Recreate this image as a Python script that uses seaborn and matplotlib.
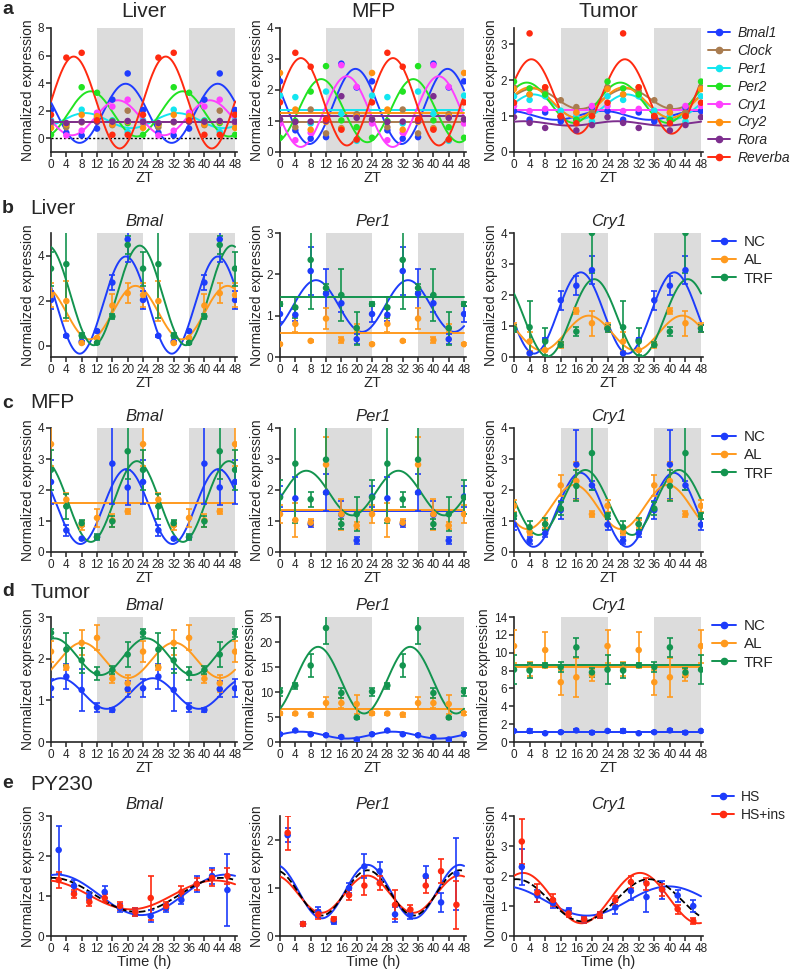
import numpy as np
import pandas as pd
import matplotlib
matplotlib.use("Agg")
import matplotlib.pyplot as plt
from matplotlib.lines import Line2D
import seaborn as sns

sns.set_style("ticks")
plt.rcParams['font.family'] = ['Liberation Sans', 'DejaVu Sans']

# ---------------- data ----------------
zt = [0, 4, 8, 12, 16, 20]   # values are double-plotted over 48 h

genes = ["Bmal1", "Clock", "Per1", "Per2", "Cry1", "Cry2", "Rora", "Reverba"]
gene_colors = ["#1f3cff", "#a97c50", "#12e6f0", "#22e322", "#ff40ff", "#ff9010", "#7d2e8e", "#ff2a10"]

liver_a = {
    "Bmal1": [2.05, 0.4, 0.2, 0.7, 2.8, 4.7],
    "Clock": [1.1, 0.8, 1.15, 1.2, 0.95, 2.0],
    "Per1": [1.3, 1.05, 2.07, 1.5, 1.3, 0.45],
    "Per2": [0.25, 1.0, 3.7, 3.3, 1.25, 1.1],
    "Cry1": [1.2, 0.2, 0.55, 1.85, 2.3, 2.8],
    "Cry2": [0.75, 1.0, 1.7, 1.6, 1.0, 1.2],
    "Rora": [1.2, 1.1, 1.2, 1.2, 1.2, 1.25],
    "Reverba": [1.7, 5.85, 6.2, 1.3, 0.25, 0.25],
}
liver_a_flat = ["Clock", "Cry2", "Rora"]

mfp_a = {
    "Bmal1": [2.28, 0.7, 0.43, 0.48, 2.85, 2.08],
    "Clock": [1.05, 0.8, 1.37, 0.6, 0.77, 1.22],
    "Per1": [1.82, 1.77, 0.92, 1.95, 1.23, 0.36],
    "Per2": [0.46, 1.0, 1.95, 2.77, 1.02, 0.8],
    "Cry1": [0.92, 0.38, 0.62, 1.0, 2.8, 2.1],
    "Cry2": [2.55, 1.37, 0.72, 0.97, 0.75, 1.15],
    "Rora": [1.05, 0.97, 0.98, 1.0, 1.8, 1.1],
    "Reverba": [1.6, 3.2, 2.75, 1.05, 0.72, 0.4],
}
mfp_a_flat = ["Per1", "Clock", "Cry2", "Rora"]

tumor_a = {
    "Bmal1": [1.14, 0.9, 1.1, 0.85, 0.9, 1.23],
    "Clock": [1.8, 1.6, 1.7, 1.44, 1.25, 1.1],
    "Per1": [1.55, 1.45, 1.55, 1.15, 1.0, 0.85],
    "Per2": [1.96, 1.77, 1.6, 1.0, 0.9, 1.0],
    "Cry1": [1.28, 1.14, 1.2, 1.0, 1.1, 1.28],
    "Cry2": [1.75, 1.6, 1.8, 1.0, 1.1, 1.0],
    "Rora": [0.97, 0.81, 0.67, 0.97, 0.6, 0.75],
    "Reverba": [1.37, 3.3, 1.8, 1.0, 0.8, 1.0],
}
tumor_a_flat = ["Cry1"]

groups = ["NC", "AL", "TRF"]
group_colors = ["#1d3cfb", "#ff9a1e", "#13944f"]

# rows b-d: (mean, sem) per group
liver_bmal = {"NC": ([2.03, 0.44, 0.18, 0.65, 2.8, 4.72], [0.4, 0.05, 0.05, 0.05, 0.35, 1.0]),
              "AL": ([2.25, 1.98, 0.12, 0.35, 1.78, 2.33], [0.55, 0.9, 0.05, 0.05, 0.5, 0.45]),
              "TRF": ([3.42, 3.62, 0.45, 0.13, 1.3, 4.47], [0.75, 2.4, 0.1, 0.05, 0.1, 0.4])}
liver_per1 = {"NC": ([1.04, 1.02, 2.08, 1.53, 1.3, 0.43], [0.2, 0.15, 0.58, 0.6, 0.2, 0.12]),
              "AL": ([0.31, 0.8, 0.39, 0.93, 0.41, 0.7], [0.03, 0.2, 0.03, 0.25, 0.07, 0.1]),
              "TRF": ([1.28, 1.2, 2.35, 1.67, 1.5, 0.7], [0.05, 0.25, 1.2, 0.1, 0.62, 0.4])}
liver_cry1 = {"NC": ([0.92, 0.12, 0.55, 1.83, 2.3, 2.8], [0.1, 0.03, 0.05, 0.3, 0.3, 0.45]),
              "AL": ([0.96, 0.5, 0.22, 0.39, 1.48, 1.09], [0.15, 0.3, 0.03, 0.1, 0.1, 0.4]),
              "TRF": ([0.92, 0.96, 0.5, 0.39, 0.82, 4.0], [0.1, 0.85, 0.45, 0.08, 0.15, 1.3])}

mfp_bmal = {"NC": ([2.26, 0.7, 0.43, 0.48, 2.85, 2.08], [0.7, 0.17, 0.03, 0.05, 1.3, 0.55]),
            "AL": ([3.48, 1.69, 0.86, 1.1, 1.02, 1.31], [0.7, 0.2, 0.15, 0.3, 0.2, 0.07]),
            "TRF": ([2.65, 1.47, 0.93, 0.48, 0.99, 3.25], [0.65, 0.4, 0.1, 0.1, 0.18, 0.9])}
mfp_per1 = {"NC": ([1.79, 1.73, 0.9, 1.92, 1.2, 0.37], [0.35, 0.7, 0.1, 0.6, 0.45, 0.12]),
            "AL": ([1.22, 1.03, 0.95, 2.82, 1.22, 0.85], [0.3, 0.55, 0.12, 0.9, 0.5, 0.12]),
            "TRF": ([1.76, 2.85, 1.7, 2.98, 0.9, 1.22], [0.55, 1.9, 0.25, 1.1, 0.15, 0.55])}
mfp_cry1 = {"NC": ([0.88, 0.37, 0.6, 1.35, 2.82, 2.15], [0.18, 0.1, 0.1, 0.3, 1.1, 0.15]),
            "AL": ([1.49, 0.66, 0.9, 2.15, 2.29, 1.22], [0.2, 0.1, 0.13, 0.35, 0.6, 0.1]),
            "TRF": ([1.17, 0.8, 0.9, 1.4, 2.13, 3.19], [0.1, 0.2, 0.2, 0.2, 0.5, 1.2])}

tumor_bmal = {"NC": ([1.29, 1.57, 1.25, 0.83, 0.77, 1.27], [0.22, 0.3, 0.5, 0.1, 0.05, 0.2]),
              "AL": ([2.17, 1.79, 2.38, 2.5, 1.52, 1.41], [0.25, 0.05, 0.3, 0.3, 0.1, 0.2]),
              "TRF": ([2.62, 2.22, 1.96, 1.65, 1.73, 2.1], [0.1, 0.4, 0.3, 0.15, 0.1, 0.3])}
tumor_per1 = {"NC": ([1.55, 2.3, 1.55, 1.35, 1.0, 0.5], [0.2, 0.2, 0.2, 0.2, 0.2, 0.2]),
              "AL": ([5.74, 5.7, 5.5, 7.8, 7.8, 7.6], [0.3, 0.2, 0.4, 1.2, 1.0, 1.9]),
              "TRF": ([10.1, 11.3, 15.3, 22.8, 9.8, 4.9], [0.8, 0.6, 2.3, 3.1, 1.0, 0.2])}
tumor_cry1 = {"NC": ([1.24, 1.24, 0.98, 1.1, 1.3, 1.05], [0.15, 0.2, 0.1, 0.1, 0.2, 0.2]),
              "AL": ([10.75, 8.2, 10.3, 6.7, 7.25, 7.5], [1.85, 0.8, 2.0, 1.4, 2.2, 0.7]),
              "TRF": ([8.1, 8.0, 8.6, 8.4, 10.6, 7.8], [1.6, 0.8, 0.2, 0.6, 1.1, 0.5])}

# row e: PY230 time course
time_h = [2, 6, 10, 14, 18, 22, 26, 30, 34, 38, 42, 46]
py_groups = ["HS", "HS+ins"]
py_colors = ["#1d3cfb", "#ff2a10"]
py_bmal = {"HS": ([2.15, 1.25, 1.0, 1.1, 0.7, 0.6, 0.5, 0.7, 0.9, 1.3, 1.5, 1.15],
                  [0.6, 0.15, 0.1, 0.15, 0.1, 0.1, 0.15, 0.1, 0.1, 0.2, 0.2, 0.9]),
           "HS+ins": ([1.4, 1.05, 0.85, 0.95, 0.75, 0.6, 0.95, 0.75, 1.1, 1.3, 1.45, 1.5],
                      [0.2, 0.1, 0.1, 0.1, 0.1, 0.1, 0.55, 0.1, 0.15, 0.15, 0.2, 0.2])}
py_per1 = {"HS": ([2.1, 0.25, 0.5, 0.3, 1.0, 1.45, 1.35, 0.45, 0.45, 1.25, 0.7, 1.3],
                  [0.15, 0.05, 0.1, 0.05, 0.1, 0.25, 0.2, 0.15, 0.1, 0.2, 0.2, 0.75]),
           "HS+ins": ([2.15, 0.25, 0.45, 0.35, 0.85, 1.05, 1.1, 0.65, 0.55, 1.05, 1.35, 0.65],
                      [0.35, 0.05, 0.1, 0.05, 0.1, 0.2, 0.15, 0.3, 0.1, 0.15, 0.25, 0.5])}
py_cry1 = {"HS": ([2.3, 1.35, 1.1, 0.85, 0.55, 0.7, 0.95, 1.5, 1.3, 1.55, 1.35, 1.0],
                  [0.6, 0.2, 0.15, 0.1, 0.1, 0.1, 0.2, 0.3, 0.5, 0.3, 0.2, 0.2]),
           "HS+ins": ([3.15, 1.45, 1.2, 0.75, 0.55, 0.7, 1.2, 1.8, 1.75, 1.55, 0.9, 0.5],
                      [0.75, 0.3, 0.2, 0.1, 0.1, 0.1, 0.15, 0.2, 0.2, 0.2, 0.15, 0.1])}
# cosinor periods used for the PY230 fits: HS, HS+ins, pooled
py_periods = {"Bmal": (44, 44, 44), "Per1": (24, 24, 24), "Cry1": (42, 30, 34)}

# ---------------- helpers ----------------
W, H = 799, 971
fig = plt.figure(figsize=(W / 100, H / 100), dpi=100)
col_x = [(51, 237), (280, 466), (514, 703)]
row_y = [(28, 152), (233, 357), (428, 552), (617, 742), (816, 936)]
tfit = np.linspace(0, 48, 241)


def make_ax(r, c):
    x0, x1 = col_x[c]
    y0, y1 = row_y[r]
    return fig.add_axes([x0 / W, 1 - y1 / H, (x1 - x0) / W, (y1 - y0) / H])


def cosinor(t, y, period):
    t = np.asarray(t, float)
    X = np.column_stack([np.ones_like(t), np.cos(2 * np.pi * t / period), np.sin(2 * np.pi * t / period)])
    b = np.linalg.lstsq(X, np.asarray(y, float), rcond=None)[0]
    return b[0] + b[1] * np.cos(2 * np.pi * tfit / period) + b[2] * np.sin(2 * np.pi * tfit / period)


def double(v):
    return list(v) + list(v) + [v[0]]


t48 = zt + [z + 24 for z in zt] + [48]


def style_ax(ax, ylim, yticks, xlabel="ZT", shade=True):
    if shade:
        ax.axvspan(12, 24, color="#dcdcdc", lw=0, zorder=0)
        ax.axvspan(36, 48, color="#dcdcdc", lw=0, zorder=0)
    ax.set_xlim(0, 48.5)
    ax.set_ylim(*ylim)
    ax.set_xticks(range(0, 49, 4))
    ax.set_yticks(yticks)
    ax.tick_params(labelsize=8.5, length=3.5, width=1.1, pad=1.5)
    for s in ["left", "bottom"]:
        ax.spines[s].set_linewidth(1.2)
    sns.despine(ax=ax)
    ax.set_xlabel(xlabel, fontsize=10.5, labelpad=0)
    ax.set_ylabel("Normalized expression", fontsize=10, labelpad=2)


def draw_genes(ax, data, flat):
    pts = pd.DataFrame([(t, y, g) for g in genes for t, y in zip(t48, double(data[g]))], columns=["t", "y", "g"])
    fits = []
    for g in genes:
        yy = np.full_like(tfit, np.mean(data[g])) if g in flat else cosinor(zt, data[g], 24)
        fits.append(pd.DataFrame({"t": tfit, "y": yy, "g": g}))
    fits = pd.concat(fits)
    pal = dict(zip(genes, gene_colors))
    sns.lineplot(data=fits, x="t", y="y", hue="g", palette=pal, hue_order=genes, lw=1.4,
                 legend=False, ax=ax, zorder=3)
    sns.scatterplot(data=pts, x="t", y="y", hue="g", palette=pal, hue_order=genes, s=22,
                    linewidth=0, legend=False, ax=ax, zorder=4)


def draw_groups(ax, data, names, colors, t, flat=(), periods=None, pooled=None, double_plot=True):
    pal = dict(zip(names, colors))
    rows, fits = [], []
    for i, g in enumerate(names):
        m, e = data[g]
        tt = t48 if double_plot else t
        mm = double(m) if double_plot else m
        ee = double(e) if double_plot else e
        rows += [(a, b, c, g) for a, b, c in zip(tt, mm, ee)]
        if g in flat:
            yy = np.full_like(tfit, np.mean(m))
        else:
            yy = cosinor(t, m, periods[i] if periods else 24)
        fits.append(pd.DataFrame({"t": tfit, "y": yy, "g": g}))
    pts = pd.DataFrame(rows, columns=["t", "y", "e", "g"])
    fits = pd.concat(fits)
    sns.lineplot(data=fits, x="t", y="y", hue="g", palette=pal, hue_order=names, lw=1.4,
                 legend=False, ax=ax, zorder=3)
    if pooled is not None:
        allt = list(t) * len(names)
        ally = sum([list(data[g][0]) for g in names], [])
        sns.lineplot(x=tfit, y=cosinor(allt, ally, pooled), color="black", lw=1.3,
                     linestyle="--", ax=ax, zorder=3)
    for g in names:
        sub = pts[pts.g == g]
        ax.errorbar(sub.t, sub.y, yerr=sub.e, fmt="none", ecolor=pal[g], elinewidth=1.2,
                    capsize=2.5, capthick=1.2, zorder=4)
    sns.scatterplot(data=pts, x="t", y="y", hue="g", palette=pal, hue_order=names, s=22,
                    linewidth=0, legend=False, ax=ax, zorder=5)


def legend(names, colors, x, y, italic=False, size=11):
    handles = [Line2D([0], [0], color=c, lw=1.4, marker="o", markersize=4.5) for c in colors]
    leg = fig.legend(handles, names, loc="upper left", bbox_to_anchor=(x / W, 1 - y / H),
                     frameon=False, fontsize=size, handlelength=1.6, handletextpad=0.5,
                     labelspacing=0.28, borderpad=0, borderaxespad=0)
    if italic:
        for txt in leg.get_texts():
            txt.set_style("italic")


def fig_text(x, y, s, **kw):
    fig.text(x / W, 1 - y / H, s, va="center", **kw)


# ---------------- row a ----------------
for c, (data, flat, title, ylim, yt) in enumerate([
        (liver_a, liver_a_flat, "Liver", (-1, 8), [0, 2, 4, 6, 8]),
        (mfp_a, mfp_a_flat, "MFP", (0, 4), [0, 1, 2, 3, 4]),
        (tumor_a, tumor_a_flat, "Tumor", (0, 3.45), [0, 1, 2, 3])]):
    ax = make_ax(0, c)
    style_ax(ax, ylim, yt)
    if c == 0:
        ax.axhline(0, color="black", lw=1, ls=(0, (1.5, 1.5)), zorder=2)
    draw_genes(ax, data, flat)
    ax.set_title(title, fontsize=15, pad=8)
legend(genes, gene_colors, 708, 26, italic=True, size=10)
fig_text(2, 10, "a", fontsize=14, fontweight="bold")

# ---------------- rows b-d ----------------
rows_bd = [
    ("b", "Liver", [(liver_bmal, [], (-0.5, 5), [0, 2, 4]),
                    (liver_per1, ["AL", "TRF"], (0, 3), [0, 1, 2, 3]),
                    (liver_cry1, [], (0, 4), [0, 1, 2, 3, 4])]),
    ("c", "MFP", [(mfp_bmal, ["AL"], (0, 4), [0, 1, 2, 3, 4]),
                  (mfp_per1, ["NC", "AL"], (0, 4), [0, 1, 2, 3, 4]),
                  (mfp_cry1, [], (0, 4), [0, 1, 2, 3, 4])]),
    ("d", "Tumor", [(tumor_bmal, [], (0, 3), [0, 1, 2, 3]),
                    (tumor_per1, ["AL"], (0, 25), [0, 5, 10, 15, 20, 25]),
                    (tumor_cry1, ["NC", "AL", "TRF"], (0, 14), [0, 2, 4, 6, 8, 10, 12, 14])]),
]
gene_titles = ["Bmal", "Per1", "Cry1"]
for r, (letter, tissue, panels) in enumerate(rows_bd, start=1):
    for c, (data, flat, ylim, yt) in enumerate(panels):
        ax = make_ax(r, c)
        style_ax(ax, ylim, yt)
        draw_groups(ax, data, groups, group_colors, zt, flat=flat)
        ax.set_title(gene_titles[c], fontsize=12, style="italic", pad=5)
    top = row_y[r][0]
    fig_text(2, top - 25, letter, fontsize=14, fontweight="bold")
    fig_text(30, top - 25, tissue, fontsize=15)
    legend(groups, group_colors, 712, top + 2)

# ---------------- row e ----------------
for c, (data, key, ylim, yt) in enumerate([(py_bmal, "Bmal", (0, 3), [0, 1, 2, 3]),
                                           (py_per1, "Per1", (0, 2.5), [0, 1, 2]),
                                           (py_cry1, "Cry1", (0, 4), [0, 1, 2, 3, 4])]):
    ax = make_ax(4, c)
    style_ax(ax, ylim, yt, xlabel="Time (h)", shade=False)
    p = py_periods[key]
    draw_groups(ax, data, py_groups, py_colors, time_h, periods=p[:2], pooled=p[2], double_plot=False)
    ax.set_title(gene_titles[c], fontsize=12, style="italic", pad=5)
fig_text(2, 784, "e", fontsize=14, fontweight="bold")
fig_text(30, 784, "PY230", fontsize=15)
legend(py_groups, py_colors, 712, 790, size=10)

fig.savefig("out.png", dpi=100)
